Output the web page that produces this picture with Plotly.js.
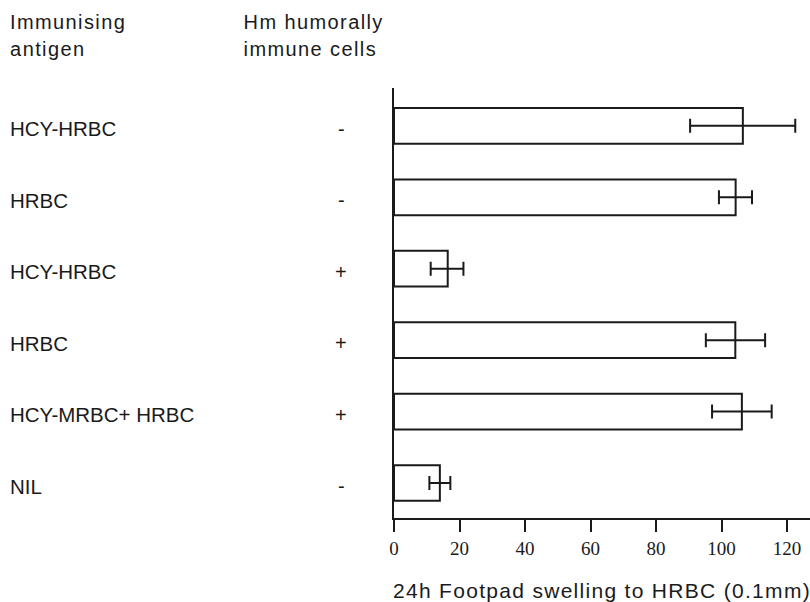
<!DOCTYPE html>
<html>
<head>
<meta charset="utf-8">
<script src="https://cdn.plot.ly/plotly-3.0.1.min.js"></script>
<style>
html,body{margin:0;padding:0;background:#fff;}
#chart{width:810px;height:602px;}
#chart .annotation[data-index="12"] text,
#chart .annotation[data-index="13"] text,
#chart .annotation[data-index="14"] text,
#chart .annotation[data-index="15"] text{letter-spacing:1.4px;}
#chart text.xtitle{letter-spacing:1.3px;}
</style>
</head>
<body>
<div id="chart"></div>
<script>
// Data
const antigens = ["HCY-HRBC", "HRBC", "HCY-HRBC", "HRBC", "HCY-MRBC+ HRBC", "NIL"];
const immuneCells = ["-", "-", "+", "+", "+", "-"];
const swelling = [106.5, 104.3, 16.4, 104.2, 106.2, 14.0];
const errPlus = [16.0, 5.0, 4.8, 9.1, 9.1, 3.2];
const errMinus = [16.1, 5.1, 5.2, 9.0, 9.1, 3.2];
const xTicks = [0, 20, 40, 60, 80, 100, 120];

const positions = antigens.map((_, i) => i);
const sans = "Liberation Sans, Arial, Helvetica, sans-serif";
const txt = "#1a1a1a";

const trace = {
  type: "bar",
  orientation: "h",
  x: swelling,
  y: positions,
  width: 0.5,
  marker: { color: "#ffffff", line: { color: txt, width: 2 } },
  error_x: { type: "data", array: errPlus, arrayminus: errMinus, symmetric: false,
             color: txt, thickness: 2, width: 7 },
  hoverinfo: "x"
};

const annotations = [];
antigens.forEach((a, i) => {
  annotations.push({ xref: "paper", yref: "y", x: -0.928, y: positions[i], yshift: -3,
    xanchor: "left", yanchor: "middle", text: a, showarrow: false,
    font: { family: sans, size: 20.5, color: txt } });
  annotations.push({ xref: "paper", yref: "y", x: -0.127, y: positions[i], yshift: -3,
    xanchor: "center", yanchor: "middle", text: immuneCells[i], showarrow: false,
    font: { family: sans, size: 20, color: txt } });
});
const headers = [
  { text: "Immunising", x: -0.911, y: 1.154 },
  { text: "antigen", x: -0.916, y: 1.091 },
  { text: "Hm humorally", x: -0.345, y: 1.154 },
  { text: "immune cells", x: -0.345, y: 1.091 }
];
headers.forEach(h => annotations.push({ xref: "paper", yref: "paper", x: h.x, y: h.y,
  xanchor: "left", yanchor: "middle", text: h.text, showarrow: false,
  font: { family: sans, size: 20, color: txt } }));

const layout = {
  width: 810, height: 602,
  margin: { l: 394, r: 0, t: 88, b: 84, pad: 0 },
  paper_bgcolor: "#ffffff", plot_bgcolor: "#ffffff",
  showlegend: false,
  xaxis: {
    range: [0, 127], tickvals: xTicks, ticktext: xTicks.map(String),
    showline: true, linecolor: txt, linewidth: 2,
    ticks: "outside", ticklen: 12, tickwidth: 2, tickcolor: txt,
    showgrid: false, zeroline: false,
    tickfont: { family: "Liberation Serif, Times New Roman, serif", size: 19, color: txt },
    title: { text: "24h Footpad swelling to HRBC (0.1mm)", standoff: 30,
             font: { family: sans, size: 21, color: txt } },
    automargin: false, fixedrange: true
  },
  yaxis: {
    range: [5.49, -0.53], showline: true, linecolor: txt, linewidth: 2,
    showticklabels: false, ticks: "", showgrid: false, zeroline: false,
    automargin: false, fixedrange: true
  },
  annotations: annotations
};

Plotly.newPlot("chart", [trace], layout, { displayModeBar: false, staticPlot: true });
</script>
</body>
</html>
